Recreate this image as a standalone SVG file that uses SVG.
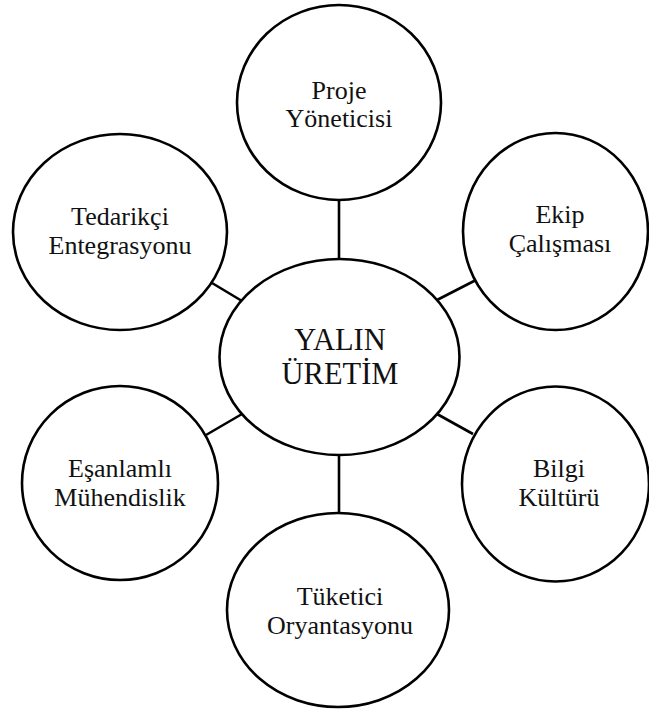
<svg xmlns="http://www.w3.org/2000/svg" width="649" height="709" viewBox="0 0 649 709">
  <style>
    .shape { fill: #ffffff; stroke: #000000; stroke-width: 2.6; }
    .link { stroke: #000000; stroke-width: 2.6; fill: none; }
    text { font-family: 'Liberation Serif', 'DejaVu Serif', serif; font-size: 26px; fill: #111111; text-anchor: middle; }
    .hub { font-size: 30.5px; }
  </style>
  <rect width="649" height="709" fill="#ffffff"/>

  <!-- spokes from the hub to each surrounding node -->
  <g id="connectors">
    <line class="link" x1="339" y1="200" x2="339" y2="259"/>
    <line class="link" x1="437" y1="300" x2="476" y2="280"/>
    <line class="link" x1="212" y1="283" x2="242" y2="301"/>
    <line class="link" x1="206" y1="435" x2="242" y2="414"/>
    <line class="link" x1="437" y1="414" x2="473" y2="434"/>
    <line class="link" x1="339" y1="455" x2="339" y2="513"/>
  </g>

  <g id="proje-yoneticisi">
    <ellipse class="shape" cx="339" cy="102.5" rx="102" ry="97.5"/>
    <text x="339" y="99">Proje</text>
    <text x="339" y="127">Yöneticisi</text>
  </g>

  <g id="ekip-calismasi">
    <ellipse class="shape" cx="555.5" cy="231.5" rx="92.5" ry="98.5"/>
    <text x="560" y="223">Ekip</text>
    <text x="560" y="252">Çalışması</text>
  </g>

  <g id="tedarikci-entegrasyonu">
    <ellipse class="shape" cx="120" cy="232" rx="107" ry="98"/>
    <text x="120" y="225">Tedarikçi</text>
    <text x="120" y="254">Entegrasyonu</text>
  </g>

  <g id="yalin-uretim">
    <ellipse class="shape" cx="339.5" cy="357" rx="120" ry="98"/>
    <text class="hub" x="340" y="350">YALIN</text>
    <text class="hub" x="340" y="384">ÜRETİM</text>
  </g>

  <g id="esanlamli-muhendislik">
    <ellipse class="shape" cx="120" cy="483" rx="98" ry="97"/>
    <text x="120" y="477">Eşanlamlı</text>
    <text x="120" y="506">Mühendislik</text>
  </g>

  <g id="bilgi-kulturu">
    <ellipse class="shape" cx="555.5" cy="484" rx="93.5" ry="97.5"/>
    <text x="559" y="477">Bilgi</text>
    <text x="559" y="506">Kültürü</text>
  </g>

  <g id="tuketici-oryantasyonu">
    <ellipse class="shape" cx="338" cy="610" rx="111" ry="97"/>
    <text x="340" y="605">Tüketici</text>
    <text x="340" y="634">Oryantasyonu</text>
  </g>
</svg>
